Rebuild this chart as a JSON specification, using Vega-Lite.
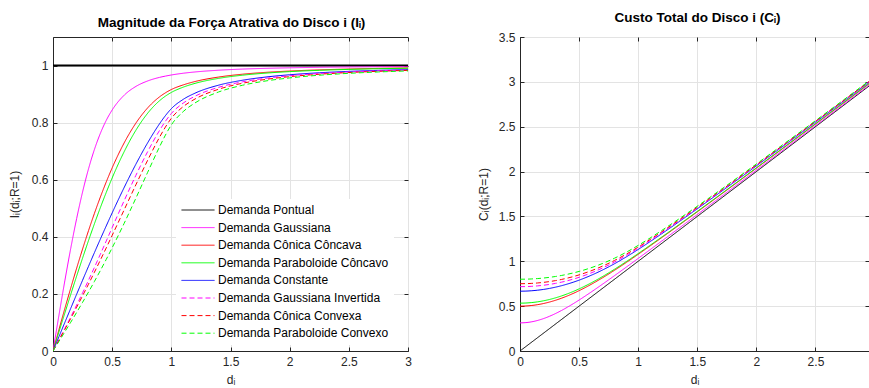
{
  "$schema": "https://vega.github.io/schema/vega-lite/v6.json",
  "background": "white",
  "padding": {"left": 7, "top": 10, "right": 0, "bottom": 0},
  "bounds": "flush",
  "spacing": 112,
  "config": {
    "font": "Liberation Sans",
    "view": {"stroke": "#262626", "strokeWidth": 1},
    "axis": {
      "domainColor": "#262626", "domainWidth": 1,
      "tickColor": "#262626", "tickSize": -4, "tickWidth": 1,
      "gridColor": "#e3e3e3", "gridWidth": 1,
      "labelFont": "Liberation Sans", "labelFontSize": 12, "labelColor": "#262626",
      "labelFlush": false, "labelOverlap": false, "labelPadding": 9, "format": "~g",
      "titleFont": "Liberation Sans", "titleFontSize": 12, "titleFontWeight": "normal", "titleColor": "#262626"
    }
  },
  "datasets": {
    "force": [
      {"s": "Demanda Pontual", "d": 0, "v": 1},
      {"s": "Demanda Pontual", "d": 3, "v": 1},
      {"s": "Demanda Gaussiana", "d": 0, "v": 0},
      {"s": "Demanda Gaussiana", "d": 0.05, "v": 0.1247},
      {"s": "Demanda Gaussiana", "d": 0.1, "v": 0.2458},
      {"s": "Demanda Gaussiana", "d": 0.15, "v": 0.3598},
      {"s": "Demanda Gaussiana", "d": 0.2, "v": 0.4642},
      {"s": "Demanda Gaussiana", "d": 0.25, "v": 0.5572},
      {"s": "Demanda Gaussiana", "d": 0.3, "v": 0.6378},
      {"s": "Demanda Gaussiana", "d": 0.35, "v": 0.7059},
      {"s": "Demanda Gaussiana", "d": 0.4, "v": 0.7622},
      {"s": "Demanda Gaussiana", "d": 0.45, "v": 0.8079},
      {"s": "Demanda Gaussiana", "d": 0.5, "v": 0.8443},
      {"s": "Demanda Gaussiana", "d": 0.6, "v": 0.8955},
      {"s": "Demanda Gaussiana", "d": 0.7, "v": 0.9267},
      {"s": "Demanda Gaussiana", "d": 0.8, "v": 0.946},
      {"s": "Demanda Gaussiana", "d": 0.9, "v": 0.9585},
      {"s": "Demanda Gaussiana", "d": 0.95, "v": 0.963},
      {"s": "Demanda Gaussiana", "d": 1, "v": 0.9669},
      {"s": "Demanda Gaussiana", "d": 1.1, "v": 0.973},
      {"s": "Demanda Gaussiana", "d": 1.2, "v": 0.9775},
      {"s": "Demanda Gaussiana", "d": 1.4, "v": 0.9836},
      {"s": "Demanda Gaussiana", "d": 1.6, "v": 0.9876},
      {"s": "Demanda Gaussiana", "d": 1.8, "v": 0.9902},
      {"s": "Demanda Gaussiana", "d": 2, "v": 0.9921},
      {"s": "Demanda Gaussiana", "d": 2.25, "v": 0.9938},
      {"s": "Demanda Gaussiana", "d": 2.5, "v": 0.995},
      {"s": "Demanda Gaussiana", "d": 2.75, "v": 0.9958},
      {"s": "Demanda Gaussiana", "d": 3, "v": 0.9965},
      {"s": "Demanda Cônica Côncava", "d": 0, "v": 0},
      {"s": "Demanda Cônica Côncava", "d": 0.05, "v": 0.0748},
      {"s": "Demanda Cônica Côncava", "d": 0.1, "v": 0.1485},
      {"s": "Demanda Cônica Côncava", "d": 0.15, "v": 0.2205},
      {"s": "Demanda Cônica Côncava", "d": 0.2, "v": 0.2903},
      {"s": "Demanda Cônica Côncava", "d": 0.25, "v": 0.3573},
      {"s": "Demanda Cônica Côncava", "d": 0.3, "v": 0.4213},
      {"s": "Demanda Cônica Côncava", "d": 0.35, "v": 0.482},
      {"s": "Demanda Cônica Côncava", "d": 0.4, "v": 0.539},
      {"s": "Demanda Cônica Côncava", "d": 0.45, "v": 0.5922},
      {"s": "Demanda Cônica Côncava", "d": 0.5, "v": 0.6416},
      {"s": "Demanda Cônica Côncava", "d": 0.6, "v": 0.728},
      {"s": "Demanda Cônica Côncava", "d": 0.7, "v": 0.798},
      {"s": "Demanda Cônica Côncava", "d": 0.8, "v": 0.8517},
      {"s": "Demanda Cônica Côncava", "d": 0.9, "v": 0.8902},
      {"s": "Demanda Cônica Côncava", "d": 0.95, "v": 0.9044},
      {"s": "Demanda Cônica Côncava", "d": 1, "v": 0.916},
      {"s": "Demanda Cônica Côncava", "d": 1.1, "v": 0.9321},
      {"s": "Demanda Cônica Côncava", "d": 1.2, "v": 0.944},
      {"s": "Demanda Cônica Côncava", "d": 1.4, "v": 0.9597},
      {"s": "Demanda Cônica Côncava", "d": 1.6, "v": 0.9696},
      {"s": "Demanda Cônica Côncava", "d": 1.8, "v": 0.9762},
      {"s": "Demanda Cônica Côncava", "d": 2, "v": 0.9808},
      {"s": "Demanda Cônica Côncava", "d": 2.25, "v": 0.9849},
      {"s": "Demanda Cônica Côncava", "d": 2.5, "v": 0.9878},
      {"s": "Demanda Cônica Côncava", "d": 2.75, "v": 0.99},
      {"s": "Demanda Cônica Côncava", "d": 3, "v": 0.9916},
      {"s": "Demanda Paraboloide Côncavo", "d": 0, "v": 0},
      {"s": "Demanda Paraboloide Côncavo", "d": 0.05, "v": 0.0666},
      {"s": "Demanda Paraboloide Côncavo", "d": 0.1, "v": 0.1328},
      {"s": "Demanda Paraboloide Côncavo", "d": 0.15, "v": 0.1983},
      {"s": "Demanda Paraboloide Côncavo", "d": 0.2, "v": 0.2627},
      {"s": "Demanda Paraboloide Côncavo", "d": 0.25, "v": 0.3256},
      {"s": "Demanda Paraboloide Côncavo", "d": 0.3, "v": 0.3867},
      {"s": "Demanda Paraboloide Côncavo", "d": 0.35, "v": 0.4456},
      {"s": "Demanda Paraboloide Côncavo", "d": 0.4, "v": 0.502},
      {"s": "Demanda Paraboloide Côncavo", "d": 0.45, "v": 0.5556},
      {"s": "Demanda Paraboloide Côncavo", "d": 0.5, "v": 0.6062},
      {"s": "Demanda Paraboloide Côncavo", "d": 0.6, "v": 0.6971},
      {"s": "Demanda Paraboloide Côncavo", "d": 0.7, "v": 0.773},
      {"s": "Demanda Paraboloide Côncavo", "d": 0.8, "v": 0.8329},
      {"s": "Demanda Paraboloide Côncavo", "d": 0.9, "v": 0.8766},
      {"s": "Demanda Paraboloide Côncavo", "d": 0.95, "v": 0.8928},
      {"s": "Demanda Paraboloide Côncavo", "d": 1, "v": 0.9058},
      {"s": "Demanda Paraboloide Côncavo", "d": 1.1, "v": 0.9242},
      {"s": "Demanda Paraboloide Côncavo", "d": 1.2, "v": 0.9375},
      {"s": "Demanda Paraboloide Côncavo", "d": 1.4, "v": 0.9551},
      {"s": "Demanda Paraboloide Côncavo", "d": 1.6, "v": 0.9661},
      {"s": "Demanda Paraboloide Côncavo", "d": 1.8, "v": 0.9735},
      {"s": "Demanda Paraboloide Côncavo", "d": 2, "v": 0.9787},
      {"s": "Demanda Paraboloide Côncavo", "d": 2.25, "v": 0.9832},
      {"s": "Demanda Paraboloide Côncavo", "d": 2.5, "v": 0.9865},
      {"s": "Demanda Paraboloide Côncavo", "d": 2.75, "v": 0.9889},
      {"s": "Demanda Paraboloide Côncavo", "d": 3, "v": 0.9906},
      {"s": "Demanda Constante", "d": 0, "v": 0},
      {"s": "Demanda Constante", "d": 0.05, "v": 0.05},
      {"s": "Demanda Constante", "d": 0.1, "v": 0.0999},
      {"s": "Demanda Constante", "d": 0.15, "v": 0.1496},
      {"s": "Demanda Constante", "d": 0.2, "v": 0.199},
      {"s": "Demanda Constante", "d": 0.25, "v": 0.248},
      {"s": "Demanda Constante", "d": 0.3, "v": 0.2966},
      {"s": "Demanda Constante", "d": 0.35, "v": 0.3446},
      {"s": "Demanda Constante", "d": 0.4, "v": 0.3918},
      {"s": "Demanda Constante", "d": 0.45, "v": 0.4383},
      {"s": "Demanda Constante", "d": 0.5, "v": 0.4838},
      {"s": "Demanda Constante", "d": 0.6, "v": 0.5716},
      {"s": "Demanda Constante", "d": 0.7, "v": 0.654},
      {"s": "Demanda Constante", "d": 0.8, "v": 0.7294},
      {"s": "Demanda Constante", "d": 0.9, "v": 0.7958},
      {"s": "Demanda Constante", "d": 0.95, "v": 0.8245},
      {"s": "Demanda Constante", "d": 1, "v": 0.8489},
      {"s": "Demanda Constante", "d": 1.1, "v": 0.8814},
      {"s": "Demanda Constante", "d": 1.2, "v": 0.9032},
      {"s": "Demanda Constante", "d": 1.4, "v": 0.9313},
      {"s": "Demanda Constante", "d": 1.6, "v": 0.9484},
      {"s": "Demanda Constante", "d": 1.8, "v": 0.9598},
      {"s": "Demanda Constante", "d": 2, "v": 0.9677},
      {"s": "Demanda Constante", "d": 2.25, "v": 0.9747},
      {"s": "Demanda Constante", "d": 2.5, "v": 0.9796},
      {"s": "Demanda Constante", "d": 2.75, "v": 0.9832},
      {"s": "Demanda Constante", "d": 3, "v": 0.9859},
      {"s": "Demanda Gaussiana Invertida", "d": 0, "v": 0},
      {"s": "Demanda Gaussiana Invertida", "d": 0.05, "v": 0.0393},
      {"s": "Demanda Gaussiana Invertida", "d": 0.1, "v": 0.079},
      {"s": "Demanda Gaussiana Invertida", "d": 0.15, "v": 0.1195},
      {"s": "Demanda Gaussiana Invertida", "d": 0.2, "v": 0.1611},
      {"s": "Demanda Gaussiana Invertida", "d": 0.25, "v": 0.2039},
      {"s": "Demanda Gaussiana Invertida", "d": 0.3, "v": 0.2479},
      {"s": "Demanda Gaussiana Invertida", "d": 0.35, "v": 0.2929},
      {"s": "Demanda Gaussiana Invertida", "d": 0.4, "v": 0.3389},
      {"s": "Demanda Gaussiana Invertida", "d": 0.45, "v": 0.3855},
      {"s": "Demanda Gaussiana Invertida", "d": 0.5, "v": 0.4323},
      {"s": "Demanda Gaussiana Invertida", "d": 0.6, "v": 0.5254},
      {"s": "Demanda Gaussiana Invertida", "d": 0.7, "v": 0.615},
      {"s": "Demanda Gaussiana Invertida", "d": 0.8, "v": 0.6985},
      {"s": "Demanda Gaussiana Invertida", "d": 0.9, "v": 0.7725},
      {"s": "Demanda Gaussiana Invertida", "d": 0.95, "v": 0.8047},
      {"s": "Demanda Gaussiana Invertida", "d": 1, "v": 0.832},
      {"s": "Demanda Gaussiana Invertida", "d": 1.1, "v": 0.8683},
      {"s": "Demanda Gaussiana Invertida", "d": 1.2, "v": 0.8926},
      {"s": "Demanda Gaussiana Invertida", "d": 1.4, "v": 0.9238},
      {"s": "Demanda Gaussiana Invertida", "d": 1.6, "v": 0.9428},
      {"s": "Demanda Gaussiana Invertida", "d": 1.8, "v": 0.9554},
      {"s": "Demanda Gaussiana Invertida", "d": 2, "v": 0.9642},
      {"s": "Demanda Gaussiana Invertida", "d": 2.25, "v": 0.9719},
      {"s": "Demanda Gaussiana Invertida", "d": 2.5, "v": 0.9774},
      {"s": "Demanda Gaussiana Invertida", "d": 2.75, "v": 0.9814},
      {"s": "Demanda Gaussiana Invertida", "d": 3, "v": 0.9844},
      {"s": "Demanda Cônica Convexa", "d": 0, "v": 0},
      {"s": "Demanda Cônica Convexa", "d": 0.05, "v": 0.0376},
      {"s": "Demanda Cônica Convexa", "d": 0.1, "v": 0.0756},
      {"s": "Demanda Cônica Convexa", "d": 0.15, "v": 0.1141},
      {"s": "Demanda Cônica Convexa", "d": 0.2, "v": 0.1534},
      {"s": "Demanda Cônica Convexa", "d": 0.25, "v": 0.1934},
      {"s": "Demanda Cônica Convexa", "d": 0.3, "v": 0.2342},
      {"s": "Demanda Cônica Convexa", "d": 0.35, "v": 0.2759},
      {"s": "Demanda Cônica Convexa", "d": 0.4, "v": 0.3183},
      {"s": "Demanda Cônica Convexa", "d": 0.45, "v": 0.3613},
      {"s": "Demanda Cônica Convexa", "d": 0.5, "v": 0.405},
      {"s": "Demanda Cônica Convexa", "d": 0.6, "v": 0.4934},
      {"s": "Demanda Cônica Convexa", "d": 0.7, "v": 0.582},
      {"s": "Demanda Cônica Convexa", "d": 0.8, "v": 0.6683},
      {"s": "Demanda Cônica Convexa", "d": 0.9, "v": 0.7486},
      {"s": "Demanda Cônica Convexa", "d": 0.95, "v": 0.7845},
      {"s": "Demanda Cônica Convexa", "d": 1, "v": 0.8153},
      {"s": "Demanda Cônica Convexa", "d": 1.1, "v": 0.856},
      {"s": "Demanda Cônica Convexa", "d": 1.2, "v": 0.8828},
      {"s": "Demanda Cônica Convexa", "d": 1.4, "v": 0.9171},
      {"s": "Demanda Cônica Convexa", "d": 1.6, "v": 0.9379},
      {"s": "Demanda Cônica Convexa", "d": 1.8, "v": 0.9516},
      {"s": "Demanda Cônica Convexa", "d": 2, "v": 0.9611},
      {"s": "Demanda Cônica Convexa", "d": 2.25, "v": 0.9695},
      {"s": "Demanda Cônica Convexa", "d": 2.5, "v": 0.9755},
      {"s": "Demanda Cônica Convexa", "d": 2.75, "v": 0.9798},
      {"s": "Demanda Cônica Convexa", "d": 3, "v": 0.9831},
      {"s": "Demanda Paraboloide Convexo", "d": 0, "v": 0},
      {"s": "Demanda Paraboloide Convexo", "d": 0.05, "v": 0.0334},
      {"s": "Demanda Paraboloide Convexo", "d": 0.1, "v": 0.0669},
      {"s": "Demanda Paraboloide Convexo", "d": 0.15, "v": 0.1008},
      {"s": "Demanda Paraboloide Convexo", "d": 0.2, "v": 0.1353},
      {"s": "Demanda Paraboloide Convexo", "d": 0.25, "v": 0.1705},
      {"s": "Demanda Paraboloide Convexo", "d": 0.3, "v": 0.2065},
      {"s": "Demanda Paraboloide Convexo", "d": 0.35, "v": 0.2436},
      {"s": "Demanda Paraboloide Convexo", "d": 0.4, "v": 0.2817},
      {"s": "Demanda Paraboloide Convexo", "d": 0.45, "v": 0.321},
      {"s": "Demanda Paraboloide Convexo", "d": 0.5, "v": 0.3615},
      {"s": "Demanda Paraboloide Convexo", "d": 0.6, "v": 0.4462},
      {"s": "Demanda Paraboloide Convexo", "d": 0.7, "v": 0.535},
      {"s": "Demanda Paraboloide Convexo", "d": 0.8, "v": 0.626},
      {"s": "Demanda Paraboloide Convexo", "d": 0.9, "v": 0.7149},
      {"s": "Demanda Paraboloide Convexo", "d": 0.95, "v": 0.7562},
      {"s": "Demanda Paraboloide Convexo", "d": 1, "v": 0.792},
      {"s": "Demanda Paraboloide Convexo", "d": 1.1, "v": 0.8386},
      {"s": "Demanda Paraboloide Convexo", "d": 1.2, "v": 0.869},
      {"s": "Demanda Paraboloide Convexo", "d": 1.4, "v": 0.9075},
      {"s": "Demanda Paraboloide Convexo", "d": 1.6, "v": 0.9308},
      {"s": "Demanda Paraboloide Convexo", "d": 1.8, "v": 0.9461},
      {"s": "Demanda Paraboloide Convexo", "d": 2, "v": 0.9567},
      {"s": "Demanda Paraboloide Convexo", "d": 2.25, "v": 0.9661},
      {"s": "Demanda Paraboloide Convexo", "d": 2.5, "v": 0.9727},
      {"s": "Demanda Paraboloide Convexo", "d": 2.75, "v": 0.9775},
      {"s": "Demanda Paraboloide Convexo", "d": 3, "v": 0.9812}
    ],
    "cost": [
      {"s": "Demanda Pontual", "d": 0, "v": 0},
      {"s": "Demanda Pontual", "d": 3, "v": 3},
      {"s": "Demanda Gaussiana", "d": 0, "v": 0.3133},
      {"s": "Demanda Gaussiana", "d": 0.05, "v": 0.3165},
      {"s": "Demanda Gaussiana", "d": 0.1, "v": 0.3257},
      {"s": "Demanda Gaussiana", "d": 0.15, "v": 0.3409},
      {"s": "Demanda Gaussiana", "d": 0.2, "v": 0.3616},
      {"s": "Demanda Gaussiana", "d": 0.25, "v": 0.3872},
      {"s": "Demanda Gaussiana", "d": 0.3, "v": 0.4171},
      {"s": "Demanda Gaussiana", "d": 0.35, "v": 0.4507},
      {"s": "Demanda Gaussiana", "d": 0.4, "v": 0.4875},
      {"s": "Demanda Gaussiana", "d": 0.45, "v": 0.5268},
      {"s": "Demanda Gaussiana", "d": 0.5, "v": 0.5681},
      {"s": "Demanda Gaussiana", "d": 0.6, "v": 0.6553},
      {"s": "Demanda Gaussiana", "d": 0.7, "v": 0.7465},
      {"s": "Demanda Gaussiana", "d": 0.8, "v": 0.8403},
      {"s": "Demanda Gaussiana", "d": 0.9, "v": 0.9355},
      {"s": "Demanda Gaussiana", "d": 1, "v": 1.0318},
      {"s": "Demanda Gaussiana", "d": 1.1, "v": 1.1288},
      {"s": "Demanda Gaussiana", "d": 1.2, "v": 1.2264},
      {"s": "Demanda Gaussiana", "d": 1.4, "v": 1.4225},
      {"s": "Demanda Gaussiana", "d": 1.6, "v": 1.6197},
      {"s": "Demanda Gaussiana", "d": 1.8, "v": 1.8175},
      {"s": "Demanda Gaussiana", "d": 2, "v": 2.0157},
      {"s": "Demanda Gaussiana", "d": 2.25, "v": 2.2639},
      {"s": "Demanda Gaussiana", "d": 2.5, "v": 2.5125},
      {"s": "Demanda Gaussiana", "d": 2.75, "v": 2.7614},
      {"s": "Demanda Gaussiana", "d": 3, "v": 3.0104},
      {"s": "Demanda Cônica Côncava", "d": 0, "v": 0.5},
      {"s": "Demanda Cônica Côncava", "d": 0.05, "v": 0.5019},
      {"s": "Demanda Cônica Côncava", "d": 0.1, "v": 0.5075},
      {"s": "Demanda Cônica Côncava", "d": 0.15, "v": 0.5167},
      {"s": "Demanda Cônica Côncava", "d": 0.2, "v": 0.5295},
      {"s": "Demanda Cônica Côncava", "d": 0.25, "v": 0.5457},
      {"s": "Demanda Cônica Côncava", "d": 0.3, "v": 0.5652},
      {"s": "Demanda Cônica Côncava", "d": 0.35, "v": 0.5878},
      {"s": "Demanda Cônica Côncava", "d": 0.4, "v": 0.6133},
      {"s": "Demanda Cônica Côncava", "d": 0.45, "v": 0.6416},
      {"s": "Demanda Cônica Côncava", "d": 0.5, "v": 0.6725},
      {"s": "Demanda Cônica Côncava", "d": 0.6, "v": 0.7411},
      {"s": "Demanda Cônica Côncava", "d": 0.7, "v": 0.8175},
      {"s": "Demanda Cônica Côncava", "d": 0.8, "v": 0.9001},
      {"s": "Demanda Cônica Côncava", "d": 0.9, "v": 0.9873},
      {"s": "Demanda Cônica Côncava", "d": 1, "v": 1.0777},
      {"s": "Demanda Cônica Côncava", "d": 1.1, "v": 1.1701},
      {"s": "Demanda Cônica Côncava", "d": 1.2, "v": 1.264},
      {"s": "Demanda Cônica Côncava", "d": 1.4, "v": 1.4545},
      {"s": "Demanda Cônica Côncava", "d": 1.6, "v": 1.6475},
      {"s": "Demanda Cônica Côncava", "d": 1.8, "v": 1.8421},
      {"s": "Demanda Cônica Côncava", "d": 2, "v": 2.0378},
      {"s": "Demanda Cônica Côncava", "d": 2.25, "v": 2.2835},
      {"s": "Demanda Cônica Côncava", "d": 2.5, "v": 2.5301},
      {"s": "Demanda Cônica Côncava", "d": 2.75, "v": 2.7774},
      {"s": "Demanda Cônica Côncava", "d": 3, "v": 3.0251},
      {"s": "Demanda Paraboloide Côncavo", "d": 0, "v": 0.5333},
      {"s": "Demanda Paraboloide Côncavo", "d": 0.05, "v": 0.535},
      {"s": "Demanda Paraboloide Côncavo", "d": 0.1, "v": 0.54},
      {"s": "Demanda Paraboloide Côncavo", "d": 0.15, "v": 0.5483},
      {"s": "Demanda Paraboloide Côncavo", "d": 0.2, "v": 0.5598},
      {"s": "Demanda Paraboloide Côncavo", "d": 0.25, "v": 0.5745},
      {"s": "Demanda Paraboloide Côncavo", "d": 0.3, "v": 0.5923},
      {"s": "Demanda Paraboloide Côncavo", "d": 0.35, "v": 0.6131},
      {"s": "Demanda Paraboloide Côncavo", "d": 0.4, "v": 0.6368},
      {"s": "Demanda Paraboloide Côncavo", "d": 0.45, "v": 0.6633},
      {"s": "Demanda Paraboloide Côncavo", "d": 0.5, "v": 0.6924},
      {"s": "Demanda Paraboloide Côncavo", "d": 0.6, "v": 0.7576},
      {"s": "Demanda Paraboloide Côncavo", "d": 0.7, "v": 0.8313},
      {"s": "Demanda Paraboloide Côncavo", "d": 0.8, "v": 0.9117},
      {"s": "Demanda Paraboloide Côncavo", "d": 0.9, "v": 0.9973},
      {"s": "Demanda Paraboloide Côncavo", "d": 1, "v": 1.0865},
      {"s": "Demanda Paraboloide Côncavo", "d": 1.1, "v": 1.178},
      {"s": "Demanda Paraboloide Côncavo", "d": 1.2, "v": 1.2711},
      {"s": "Demanda Paraboloide Côncavo", "d": 1.4, "v": 1.4606},
      {"s": "Demanda Paraboloide Côncavo", "d": 1.6, "v": 1.6528},
      {"s": "Demanda Paraboloide Côncavo", "d": 1.8, "v": 1.8468},
      {"s": "Demanda Paraboloide Côncavo", "d": 2, "v": 2.042},
      {"s": "Demanda Paraboloide Côncavo", "d": 2.25, "v": 2.2873},
      {"s": "Demanda Paraboloide Côncavo", "d": 2.5, "v": 2.5335},
      {"s": "Demanda Paraboloide Côncavo", "d": 2.75, "v": 2.7804},
      {"s": "Demanda Paraboloide Côncavo", "d": 3, "v": 3.0279},
      {"s": "Demanda Constante", "d": 0, "v": 0.6667},
      {"s": "Demanda Constante", "d": 0.05, "v": 0.6679},
      {"s": "Demanda Constante", "d": 0.1, "v": 0.6717},
      {"s": "Demanda Constante", "d": 0.15, "v": 0.6779},
      {"s": "Demanda Constante", "d": 0.2, "v": 0.6866},
      {"s": "Demanda Constante", "d": 0.25, "v": 0.6978},
      {"s": "Demanda Constante", "d": 0.3, "v": 0.7114},
      {"s": "Demanda Constante", "d": 0.35, "v": 0.7274},
      {"s": "Demanda Constante", "d": 0.4, "v": 0.7459},
      {"s": "Demanda Constante", "d": 0.45, "v": 0.7666},
      {"s": "Demanda Constante", "d": 0.5, "v": 0.7897},
      {"s": "Demanda Constante", "d": 0.6, "v": 0.8425},
      {"s": "Demanda Constante", "d": 0.7, "v": 0.9038},
      {"s": "Demanda Constante", "d": 0.8, "v": 0.9731},
      {"s": "Demanda Constante", "d": 0.9, "v": 1.0494},
      {"s": "Demanda Constante", "d": 1, "v": 1.1318},
      {"s": "Demanda Constante", "d": 1.1, "v": 1.2184},
      {"s": "Demanda Constante", "d": 1.2, "v": 1.3077},
      {"s": "Demanda Constante", "d": 1.4, "v": 1.4914},
      {"s": "Demanda Constante", "d": 1.6, "v": 1.6795},
      {"s": "Demanda Constante", "d": 1.8, "v": 1.8704},
      {"s": "Demanda Constante", "d": 2, "v": 2.0632},
      {"s": "Demanda Constante", "d": 2.25, "v": 2.306},
      {"s": "Demanda Constante", "d": 2.5, "v": 2.5503},
      {"s": "Demanda Constante", "d": 2.75, "v": 2.7957},
      {"s": "Demanda Constante", "d": 3, "v": 3.0419},
      {"s": "Demanda Gaussiana Invertida", "d": 0, "v": 0.7171},
      {"s": "Demanda Gaussiana Invertida", "d": 0.05, "v": 0.7181},
      {"s": "Demanda Gaussiana Invertida", "d": 0.1, "v": 0.7211},
      {"s": "Demanda Gaussiana Invertida", "d": 0.15, "v": 0.726},
      {"s": "Demanda Gaussiana Invertida", "d": 0.2, "v": 0.7331},
      {"s": "Demanda Gaussiana Invertida", "d": 0.25, "v": 0.7422},
      {"s": "Demanda Gaussiana Invertida", "d": 0.3, "v": 0.7535},
      {"s": "Demanda Gaussiana Invertida", "d": 0.35, "v": 0.767},
      {"s": "Demanda Gaussiana Invertida", "d": 0.4, "v": 0.7828},
      {"s": "Demanda Gaussiana Invertida", "d": 0.45, "v": 0.8009},
      {"s": "Demanda Gaussiana Invertida", "d": 0.5, "v": 0.8213},
      {"s": "Demanda Gaussiana Invertida", "d": 0.6, "v": 0.8692},
      {"s": "Demanda Gaussiana Invertida", "d": 0.7, "v": 0.9263},
      {"s": "Demanda Gaussiana Invertida", "d": 0.8, "v": 0.992},
      {"s": "Demanda Gaussiana Invertida", "d": 0.9, "v": 1.0657},
      {"s": "Demanda Gaussiana Invertida", "d": 1, "v": 1.1461},
      {"s": "Demanda Gaussiana Invertida", "d": 1.1, "v": 1.2312},
      {"s": "Demanda Gaussiana Invertida", "d": 1.2, "v": 1.3193},
      {"s": "Demanda Gaussiana Invertida", "d": 1.4, "v": 1.5012},
      {"s": "Demanda Gaussiana Invertida", "d": 1.6, "v": 1.6881},
      {"s": "Demanda Gaussiana Invertida", "d": 1.8, "v": 1.878},
      {"s": "Demanda Gaussiana Invertida", "d": 2, "v": 2.07},
      {"s": "Demanda Gaussiana Invertida", "d": 2.25, "v": 2.312},
      {"s": "Demanda Gaussiana Invertida", "d": 2.5, "v": 2.5557},
      {"s": "Demanda Gaussiana Invertida", "d": 2.75, "v": 2.8006},
      {"s": "Demanda Gaussiana Invertida", "d": 3, "v": 3.0464},
      {"s": "Demanda Cônica Convexa", "d": 0, "v": 0.75},
      {"s": "Demanda Cônica Convexa", "d": 0.05, "v": 0.7509},
      {"s": "Demanda Cônica Convexa", "d": 0.1, "v": 0.7538},
      {"s": "Demanda Cônica Convexa", "d": 0.15, "v": 0.7585},
      {"s": "Demanda Cônica Convexa", "d": 0.2, "v": 0.7652},
      {"s": "Demanda Cônica Convexa", "d": 0.25, "v": 0.7739},
      {"s": "Demanda Cônica Convexa", "d": 0.3, "v": 0.7845},
      {"s": "Demanda Cônica Convexa", "d": 0.35, "v": 0.7973},
      {"s": "Demanda Cônica Convexa", "d": 0.4, "v": 0.8121},
      {"s": "Demanda Cônica Convexa", "d": 0.45, "v": 0.8291},
      {"s": "Demanda Cônica Convexa", "d": 0.5, "v": 0.8483},
      {"s": "Demanda Cônica Convexa", "d": 0.6, "v": 0.8932},
      {"s": "Demanda Cônica Convexa", "d": 0.7, "v": 0.947},
      {"s": "Demanda Cônica Convexa", "d": 0.8, "v": 1.0095},
      {"s": "Demanda Cônica Convexa", "d": 0.9, "v": 1.0804},
      {"s": "Demanda Cônica Convexa", "d": 1, "v": 1.1588},
      {"s": "Demanda Cônica Convexa", "d": 1.1, "v": 1.2425},
      {"s": "Demanda Cônica Convexa", "d": 1.2, "v": 1.3296},
      {"s": "Demanda Cônica Convexa", "d": 1.4, "v": 1.5099},
      {"s": "Demanda Cônica Convexa", "d": 1.6, "v": 1.6955},
      {"s": "Demanda Cônica Convexa", "d": 1.8, "v": 1.8846},
      {"s": "Demanda Cônica Convexa", "d": 2, "v": 2.0759},
      {"s": "Demanda Cônica Convexa", "d": 2.25, "v": 2.3173},
      {"s": "Demanda Cônica Convexa", "d": 2.5, "v": 2.5604},
      {"s": "Demanda Cônica Convexa", "d": 2.75, "v": 2.8049},
      {"s": "Demanda Cônica Convexa", "d": 3, "v": 3.0503},
      {"s": "Demanda Paraboloide Convexo", "d": 0, "v": 0.8},
      {"s": "Demanda Paraboloide Convexo", "d": 0.05, "v": 0.8008},
      {"s": "Demanda Paraboloide Convexo", "d": 0.1, "v": 0.8033},
      {"s": "Demanda Paraboloide Convexo", "d": 0.15, "v": 0.8075},
      {"s": "Demanda Paraboloide Convexo", "d": 0.2, "v": 0.8134},
      {"s": "Demanda Paraboloide Convexo", "d": 0.25, "v": 0.8211},
      {"s": "Demanda Paraboloide Convexo", "d": 0.3, "v": 0.8305},
      {"s": "Demanda Paraboloide Convexo", "d": 0.35, "v": 0.8417},
      {"s": "Demanda Paraboloide Convexo", "d": 0.4, "v": 0.8549},
      {"s": "Demanda Paraboloide Convexo", "d": 0.45, "v": 0.8699},
      {"s": "Demanda Paraboloide Convexo", "d": 0.5, "v": 0.887},
      {"s": "Demanda Paraboloide Convexo", "d": 0.6, "v": 0.9273},
      {"s": "Demanda Paraboloide Convexo", "d": 0.7, "v": 0.9764},
      {"s": "Demanda Paraboloide Convexo", "d": 0.8, "v": 1.0344},
      {"s": "Demanda Paraboloide Convexo", "d": 0.9, "v": 1.1015},
      {"s": "Demanda Paraboloide Convexo", "d": 1, "v": 1.1771},
      {"s": "Demanda Paraboloide Convexo", "d": 1.1, "v": 1.2588},
      {"s": "Demanda Paraboloide Convexo", "d": 1.2, "v": 1.3442},
      {"s": "Demanda Paraboloide Convexo", "d": 1.4, "v": 1.5222},
      {"s": "Demanda Paraboloide Convexo", "d": 1.6, "v": 1.7062},
      {"s": "Demanda Paraboloide Convexo", "d": 1.8, "v": 1.894},
      {"s": "Demanda Paraboloide Convexo", "d": 2, "v": 2.0844},
      {"s": "Demanda Paraboloide Convexo", "d": 2.25, "v": 2.3248},
      {"s": "Demanda Paraboloide Convexo", "d": 2.5, "v": 2.5672},
      {"s": "Demanda Paraboloide Convexo", "d": 2.75, "v": 2.811},
      {"s": "Demanda Paraboloide Convexo", "d": 3, "v": 3.0559}
    ]
  },
  "resolve": {"scale": {"color": "independent", "strokeDash": "independent"}},
  "hconcat": [
    {
      "width": 355,
      "height": 314,
      "title": {"text": "Magnitude da Força Atrativa do Disco i (Iᵢ)", "font": "Liberation Sans", "fontSize": 13.5, "fontWeight": "bold", "color": "#000000", "anchor": "middle", "frame": "group", "baseline": "alphabetic", "offset": -4, "dx": 1},
      "data": {"name": "force"},
      "resolve": {"axis": {"x": "independent", "y": "independent"}},
      "layer": [
        {
          "mark": {"type": "line", "interpolate": "monotone", "clip": true},
          "encoding": {
            "x": {"field": "d", "type": "quantitative", "scale": {"domain": [0, 3], "nice": false, "zero": false},
                  "axis": {"orient": "bottom", "title": "dᵢ", "values": [0, 0.5, 1, 1.5, 2, 2.5, 3], "grid": true, "titlePadding": 7}},
            "y": {"field": "v", "type": "quantitative", "scale": {"domain": [0, 1.1], "nice": false},
                  "axis": {"orient": "left", "title": "Iᵢ(dᵢ;R=1)", "values": [0, 0.2, 0.4, 0.6, 0.8, 1], "grid": true, "titlePadding": 10}},
            "color": {"field": "s", "type": "nominal",
              "scale": {"domain": ["Demanda Pontual", "Demanda Gaussiana", "Demanda Cônica Côncava", "Demanda Paraboloide Côncavo", "Demanda Constante", "Demanda Gaussiana Invertida", "Demanda Cônica Convexa", "Demanda Paraboloide Convexo"],
                        "range": ["#000000", "#ff00ff", "#ff0000", "#00ff00", "#0000ff", "#ff00ff", "#ff0000", "#00ff00"]},
              "legend": {"title": null, "orient": "none", "legendX": 123, "legendY": 162, "symbolType": "M-3,0H3", "symbolSize": 121, "symbolStrokeWidth": 1, "symbolOffset": 11, "labelOffset": 14, "labelFont": "Liberation Sans", "labelFontSize": 12, "labelColor": "#000000", "rowPadding": 5.6, "padding": 5, "fillColor": "white", "labelLimit": 400}},
            "strokeDash": {"field": "s", "type": "nominal",
              "scale": {"domain": ["Demanda Pontual", "Demanda Gaussiana", "Demanda Cônica Côncava", "Demanda Paraboloide Côncavo", "Demanda Constante", "Demanda Gaussiana Invertida", "Demanda Cônica Convexa", "Demanda Paraboloide Convexo"],
                        "range": [[1, 0], [1, 0], [1, 0], [1, 0], [1, 0], [5, 3], [5, 3], [5, 3]]},
              "legend": {"title": null, "orient": "none", "legendX": 123, "legendY": 162, "symbolType": "M-3,0H3", "symbolSize": 121, "symbolStrokeWidth": 1, "symbolOffset": 11, "labelOffset": 14, "labelFont": "Liberation Sans", "labelFontSize": 12, "labelColor": "#000000", "rowPadding": 5.6, "padding": 5, "fillColor": "white", "labelLimit": 400}},
            "strokeWidth": {"condition": {"test": "datum.s === 'Demanda Pontual'", "value": 2}, "value": 1}
          }
        },
        {
          "mark": {"type": "point", "opacity": 0},
          "encoding": {
            "x": {"field": "d", "type": "quantitative", "axis": {"orient": "top", "title": null, "labels": false, "domain": false, "grid": false, "values": [0, 0.5, 1, 1.5, 2, 2.5, 3]}},
            "y": {"field": "v", "type": "quantitative", "axis": {"orient": "right", "title": null, "labels": false, "domain": false, "grid": false, "values": [0, 0.2, 0.4, 0.6, 0.8, 1]}}
          }
        }
      ]
    },
    {
      "width": 349,
      "height": 314,
      "title": {"text": "Custo Total do Disco i (Cᵢ)", "font": "Liberation Sans", "fontSize": 13.5, "fontWeight": "bold", "color": "#000000", "anchor": "middle", "frame": "group", "baseline": "alphabetic", "offset": -4, "dx": 3},
      "data": {"name": "cost"},
      "resolve": {"axis": {"x": "independent", "y": "independent"}},
      "layer": [
        {
          "mark": {"type": "line", "interpolate": "monotone", "clip": true, "strokeWidth": 1},
          "encoding": {
            "x": {"field": "d", "type": "quantitative", "scale": {"domain": [0, 2.953], "nice": false, "zero": false},
                  "axis": {"orient": "bottom", "title": "dᵢ", "values": [0, 0.5, 1, 1.5, 2, 2.5], "grid": true, "titlePadding": 7}},
            "y": {"field": "v", "type": "quantitative", "scale": {"domain": [0, 3.5], "nice": false},
                  "axis": {"orient": "left", "title": "Cᵢ(dᵢ;R=1)", "values": [0, 0.5, 1, 1.5, 2, 2.5, 3, 3.5], "grid": true, "titlePadding": 8}},
            "color": {"field": "s", "type": "nominal", "legend": null,
              "scale": {"domain": ["Demanda Pontual", "Demanda Gaussiana", "Demanda Cônica Côncava", "Demanda Paraboloide Côncavo", "Demanda Constante", "Demanda Gaussiana Invertida", "Demanda Cônica Convexa", "Demanda Paraboloide Convexo"],
                        "range": ["#000000", "#ff00ff", "#ff0000", "#00ff00", "#0000ff", "#ff00ff", "#ff0000", "#00ff00"]}},
            "strokeDash": {"field": "s", "type": "nominal", "legend": null,
              "scale": {"domain": ["Demanda Pontual", "Demanda Gaussiana", "Demanda Cônica Côncava", "Demanda Paraboloide Côncavo", "Demanda Constante", "Demanda Gaussiana Invertida", "Demanda Cônica Convexa", "Demanda Paraboloide Convexo"],
                        "range": [[1, 0], [1, 0], [1, 0], [1, 0], [1, 0], [5, 3], [5, 3], [5, 3]]}}
          }
        },
        {
          "mark": {"type": "point", "opacity": 0, "clip": true},
          "encoding": {
            "x": {"field": "d", "type": "quantitative", "axis": {"orient": "top", "title": null, "labels": false, "domain": false, "grid": false, "values": [0, 0.5, 1, 1.5, 2, 2.5]}},
            "y": {"field": "v", "type": "quantitative", "axis": {"orient": "right", "title": null, "labels": false, "domain": false, "grid": false, "values": [0, 0.5, 1, 1.5, 2, 2.5, 3, 3.5]}}
          }
        }
      ]
    }
  ]
}
